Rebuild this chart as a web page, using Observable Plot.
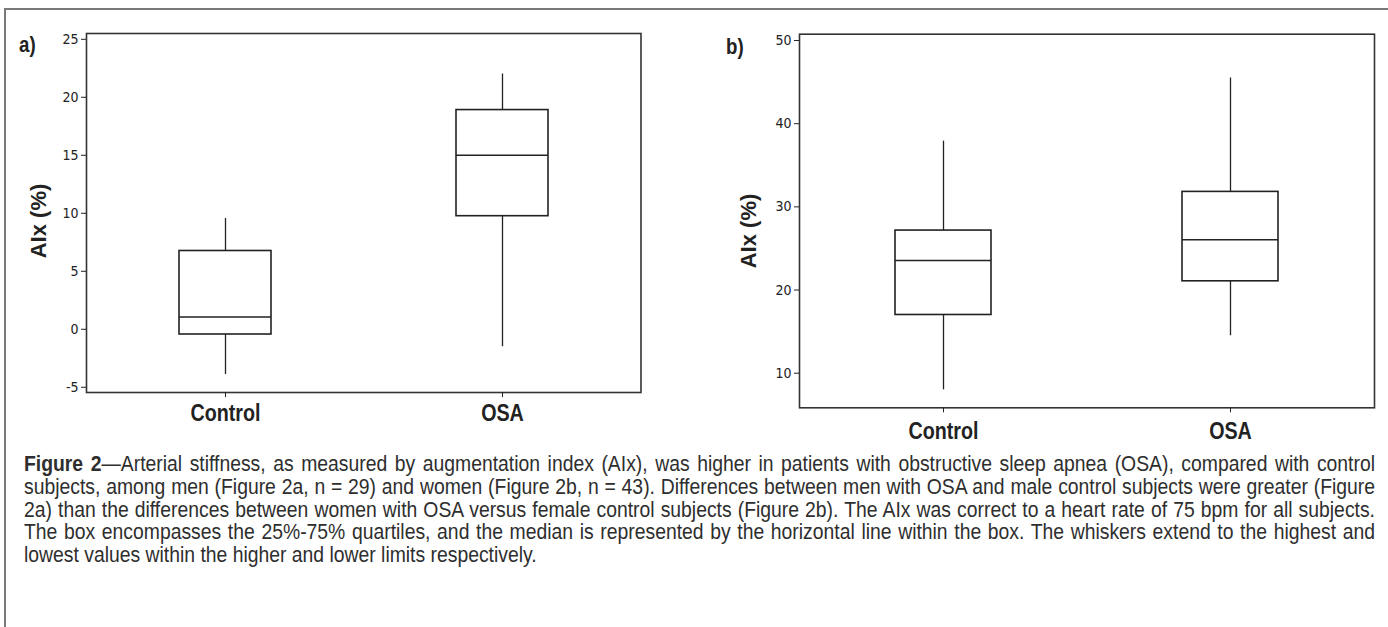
<!DOCTYPE html>
<html>
<head>
<meta charset="utf-8">
<script src="https://cdn.jsdelivr.net/npm/d3@7"></script>
<script src="https://cdn.jsdelivr.net/npm/@observablehq/plot@0.6"></script>
<style>
  html, body { margin: 0; padding: 0; background: #fff; }
  #page { position: relative; width: 1388px; height: 627px; overflow: hidden; background: #fff; }
  #border { position: absolute; left: 4px; top: 8px; width: 1400px; height: 640px;
            border-top: 2px solid #7a7a7a; border-left: 2px solid #7a7a7a; }
  .panel { position: absolute; top: 0; }
  .plab { position: absolute; font-family: "Liberation Sans", Arial, sans-serif;
          font-weight: bold; font-size: 22px; color: #222; line-height: 1;
          transform: scaleX(0.85); transform-origin: 0 0; }
  #caption { position: absolute; left: 24px; top: 453px;
             font-family: "Liberation Sans", Arial, sans-serif;
             font-size: 22.5px; line-height: 22.8px; color: #2e2e2e; }
  #caption .ln { transform-origin: 0 0; height: 22.8px;
                 text-align: justify; text-align-last: justify; white-space: nowrap; }
  #caption .ln.last { text-align-last: left; }
  #caption .ln span { white-space: nowrap; }
</style>
</head>
<body>
<div id="page">
  <div id="border"></div>
  <div id="pa" class="panel" style="left:0px"></div>
  <div id="pb" class="panel" style="left:700px"></div>
  <div class="plab" style="left:19px; top:34px">a)</div>
  <div class="plab" style="left:726px; top:36px">b)</div>
  <div id="caption"></div>
</div>
<script>
// ---- data ----
const groups = ["Control", "OSA"];

// a) men
const menLow    = [-3.9, -1.5];
const menQ1     = [-0.45, 9.75];
const menMedian = [1.05, 15.0];
const menQ3     = [6.75, 18.9];
const menHigh   = [9.55, 22.0];
const menTicks  = [-5, 0, 5, 10, 15, 20, 25];

// b) women
const womenLow    = [8.0, 14.5];
const womenQ1     = [17.0, 21.05];
const womenMedian = [23.55, 26.05];
const womenQ3     = [27.15, 31.8];
const womenHigh   = [37.9, 45.5];
const womenTicks  = [10, 20, 30, 40, 50];

const yLabel = "AIx (%)";

const captionLines = [
  "<b>Figure 2</b>—Arterial stiffness, as measured by augmentation index (AIx), was higher in patients with obstructive sleep apnea (OSA), compared with control",
  "subjects, among men (Figure 2a, n = 29) and women (Figure 2b, n = 43). Differences between men with OSA and male control subjects were greater (Figure",
  "2a) than the differences between women with OSA versus female control subjects (Figure 2b). The AIx was correct to a heart rate of 75 bpm for all subjects.",
  "The box encompasses the 25%-75% quartiles, and the median is represented by the horizontal line within the box. The whiskers extend to the highest and",
  "lowest values within the higher and lower limits respectively."
];

function table(low, q1, med, q3, high) {
  return groups.map((g, i) => ({group: g, low: low[i], q1: q1[i], median: med[i], q3: q3[i], high: high[i]}));
}

function panel(data, ticks, domain, opts) {
  return Plot.plot({
    width: opts.width,
    height: opts.height,
    marginLeft: opts.ml,
    marginRight: opts.mr,
    marginTop: opts.mt,
    marginBottom: opts.mb,
    style: {background: "transparent", color: "#222", overflow: "visible"},
    x: {type: "band", domain: groups, paddingInner: 0.667, paddingOuter: 0.333, label: null},
    y: {domain: domain, label: null},
    marks: [
      Plot.ruleX(data, {x: "group", y1: "low", y2: "high", stroke: "#222", strokeWidth: 1.3}),
      Plot.barY(data, {x: "group", y1: "q1", y2: "q3", fill: "white", stroke: "#222", strokeWidth: 1.6}),
      Plot.tickY(data, {x: "group", y: "median", stroke: "#222", strokeWidth: 1.5}),
      Plot.frame({stroke: "#333", strokeWidth: 1.6}),
      Plot.axisY({ticks: ticks, tickFormat: d => String(d), tickSize: 5, tickPadding: 3,
                  fontSize: 14, fontFamily: "DejaVu Sans Condensed, DejaVu Sans, sans-serif", label: null}),
      Plot.axisX({tickSize: 5, tickPadding: opts.tp, fontSize: 24, fontWeight: "bold",
                  fontFamily: "Liberation Sans, Arial, sans-serif", label: null}),
      Plot.text([yLabel], {text: d => d, frameAnchor: "left", textAnchor: "middle", dx: opts.ldx, dy: opts.ldy, rotate: -90,
                  fontSize: 22, fontWeight: "bold", fontFamily: "Liberation Sans, Arial, sans-serif", fill: "#222"})
    ]
  });
}

function narrowXLabels(svg) {
  d3.select(svg).selectAll('g[aria-label="x-axis tick label"] text').each(function () {
    const w = this.getComputedTextLength();
    this.setAttribute("textLength", (w * 0.82).toFixed(1));
    this.setAttribute("lengthAdjust", "spacingAndGlyphs");
  });
}

const svgA = panel(table(menLow, menQ1, menMedian, menQ3, menHigh), menTicks, [-5.45, 25.5],
        {width: 660, height: 440, ml: 86, mr: 19.5, mt: 33, mb: 48, ldx: -48, ldy: 8, tp: 6});
document.getElementById("pa").append(svgA);
narrowXLabels(svgA);

const svgB = panel(table(womenLow, womenQ1, womenMedian, womenQ3, womenHigh), womenTicks, [5.84, 50.76],
        {width: 688, height: 440, ml: 99, mr: 14, mt: 33.7, mb: 32.7, ldx: -51, ldy: 10, tp: 9});
document.getElementById("pb").append(svgB);
narrowXLabels(svgB);

// caption: condensed look via a horizontal scale, justified lines like the reference
const capWidth = 1351;
const cap = document.getElementById("caption");
const lineEls = captionLines.map((t, i) => {
  const d = document.createElement("div");
  d.className = "ln" + (i === captionLines.length - 1 ? " last" : "");
  const s = document.createElement("span");
  s.innerHTML = t;
  d.append(s);
  cap.append(d);
  return {d, s};
});
const natural = Math.max(...lineEls.map(o => o.s.getBoundingClientRect().width));
const k = Math.min(0.86, capWidth / (natural + 8));
lineEls.forEach(o => {
  o.d.style.width = (capWidth / k) + "px";
  o.d.style.transform = `scaleX(${k})`;
  o.d.innerHTML = o.s.innerHTML;
});
</script>
</body>
</html>
